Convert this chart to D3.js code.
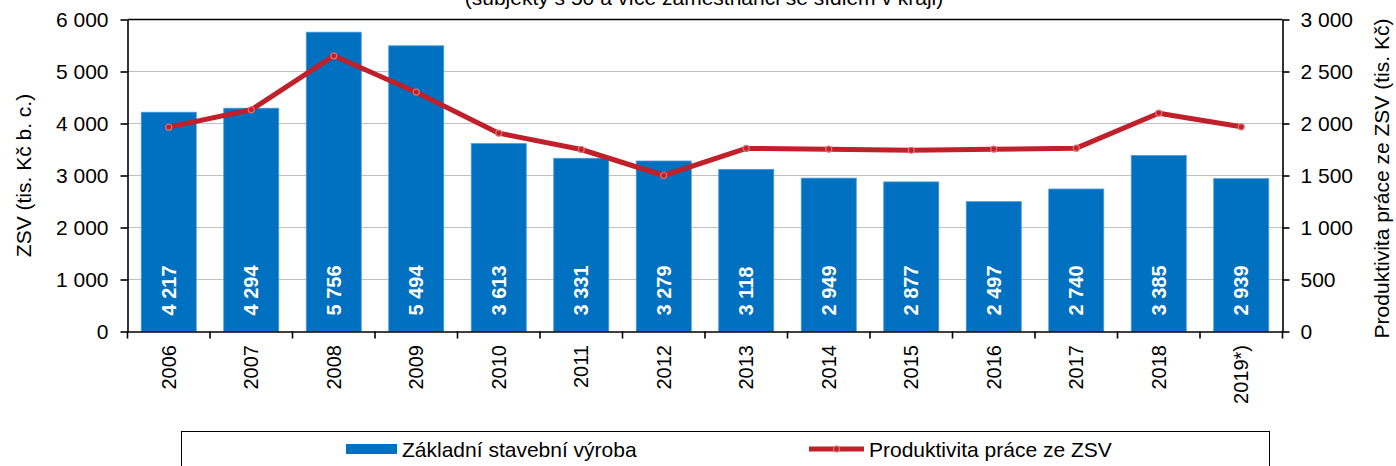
<!DOCTYPE html>
<html>
<head>
<meta charset="utf-8">
<script src="https://cdn.jsdelivr.net/npm/d3@7"></script>
<style>
  body { margin: 0; background: #fff; }
  svg text { font-family: "Liberation Sans", Arial, sans-serif; fill: #000; }
  .axis path, .axis line { stroke: #000; stroke-width: 1.6; }
  .grid line { stroke: #c0c0c0; stroke-width: 1; }
  .bar { fill: #0070c0; stroke: #4a98d8; stroke-width: 0.8; }
  .bar-label { fill: #fff !important; font-weight: bold; font-size: 20px; }
  .line { fill: none; stroke: #c0202a; stroke-width: 5; stroke-linejoin: round; }
  .dot { fill: #c0202a; stroke: #e07070; stroke-width: 1.2; }
</style>
</head>
<body>
<div id="chart"></div>
<script>
var categories = ['2006', '2007', '2008', '2009', '2010', '2011', '2012',
  '2013', '2014', '2015', '2016', '2017', '2018', '2019*)']
// ZSV (tis. Kč b. c.) - levá osa
var zsv = [4217, 4294, 5756, 5494, 3613, 3331, 3279, 3118, 2949, 2877, 2497, 2740, 3385, 2939]
// produktivita práce ze ZSV (tis. Kč) - pravá osa
var produktivita = [1965, 2132, 2651, 2301, 1907, 1750, 1500, 1760, 1753, 1743, 1753, 1763, 2099, 1968]
var leftTicks = [0, 1000, 2000, 3000, 4000, 5000, 6000]
var rightTicks = [0, 500, 1000, 1500, 2000, 2500, 3000]

var title = '(subjekty s 50 a více zaměstnanci se sídlem v kraji)'
var leftLabel = 'ZSV (tis. Kč b. c.)'
var rightLabel = 'Produktivita práce ze ZSV (tis. Kč)'
var barLegend = 'Základní stavební výroba'
var lineLegend = 'Produktivita práce ze ZSV'

var width = 1396, height = 466
var plot = { left: 127.5, right: 1282.5, top: 19.5, bottom: 331.5 }

var cz = d3.formatLocale({ decimal: ',', thousands: ' ', grouping: [3], currency: ['', ''] })
var fmt = cz.format(',d')

var svg = d3.select('#chart').append('svg')
  .attr('width', width)
  .attr('height', height)
  .style('font-size', '21px')

var data = categories.map(function (c, i) {
  return { cat: c, zsv: zsv[i], prod: produktivita[i] }
})

var x = d3.scaleBand()
  .domain(categories)
  .range([plot.left, plot.right])
  .paddingInner(1 / 3)
  .paddingOuter(1 / 6)
var yLeft = d3.scaleLinear().domain([0, 6000]).range([plot.bottom, plot.top])
var yRight = d3.scaleLinear().domain([0, 3000]).range([plot.bottom, plot.top])

// mřížka
svg.append('g')
  .attr('class', 'grid')
  .selectAll('line')
  .data(leftTicks.filter(function (d) { return d > 0 && d < 6000 }))
  .enter().append('line')
  .attr('x1', plot.left).attr('x2', plot.right)
  .attr('y1', function (d) { return yLeft(d) })
  .attr('y2', function (d) { return yLeft(d) })

// horní okraj
svg.append('line')
  .attr('x1', plot.left).attr('x2', plot.right)
  .attr('y1', plot.top).attr('y2', plot.top)
  .attr('stroke', '#000').attr('stroke-width', 1.6)

// sloupce
svg.append('g').selectAll('.bar')
  .data(data)
  .enter().append('rect')
  .attr('class', 'bar')
  .attr('x', function (d) { return x(d.cat) })
  .attr('y', function (d) { return yLeft(d.zsv) })
  .attr('width', x.bandwidth())
  .attr('height', function (d) { return yLeft(0) - yLeft(d.zsv) })

svg.append('g').selectAll('.bar-label')
  .data(data)
  .enter().append('text')
  .attr('class', 'bar-label')
  .attr('transform', function (d) {
    return 'translate(' + (x(d.cat) + x.bandwidth() / 2) + ',' + (yLeft(0) - 16) + ') rotate(-90)'
  })
  .attr('dy', '0.36em')
  .text(function (d) { return fmt(d.zsv) })

// osy
svg.append('g')
  .attr('class', 'axis')
  .attr('transform', 'translate(' + plot.left + ',0)')
  .call(d3.axisLeft(yLeft).tickValues(leftTicks).tickSize(7).tickSizeOuter(0).tickPadding(12).tickFormat(fmt))
  .call(function (g) { g.selectAll('text').style('font-size', '21px').attr('font-family', null) })

svg.append('g')
  .attr('class', 'axis')
  .attr('transform', 'translate(' + plot.right + ',0)')
  .call(d3.axisRight(yRight).tickValues(rightTicks).tickSize(7).tickSizeOuter(0).tickPadding(11).tickFormat(fmt))
  .call(function (g) { g.selectAll('text').style('font-size', '21px').attr('font-family', null) })

var xAxis = svg.append('g')
  .attr('class', 'axis')
  .attr('transform', 'translate(0,' + plot.bottom + ')')
  .call(d3.axisBottom(x).tickSize(0).tickSizeOuter(0))
xAxis.selectAll('text')
  .attr('font-family', null)
  .style('font-size', '20px')
  .attr('y', 0)
  .attr('x', -13.5)
  .attr('dy', '0.36em')
  .attr('transform', 'rotate(-90)')
  .style('text-anchor', 'end')

// značky na hranicích kategorií
var gap = x.step() - x.bandwidth()
var bounds = categories.map(function (c) { return x(c) - gap / 2 }).concat([plot.right])
xAxis.selectAll('.bound')
  .data(bounds)
  .enter().append('line')
  .attr('class', 'bound')
  .attr('x1', function (d) { return d }).attr('x2', function (d) { return d })
  .attr('y1', 0).attr('y2', 7)

// čára produktivity
var line = d3.line()
  .x(function (d) { return x(d.cat) + x.bandwidth() / 2 })
  .y(function (d) { return yRight(d.prod) })
svg.append('path')
  .datum(data)
  .attr('class', 'line')
  .attr('d', line)
svg.append('g').selectAll('.dot')
  .data(data)
  .enter().append('circle')
  .attr('class', 'dot')
  .attr('cx', function (d) { return x(d.cat) + x.bandwidth() / 2 })
  .attr('cy', function (d) { return yRight(d.prod) })
  .attr('r', 3)

// popisky (nadpis je v předloze oříznutý horním okrajem)
svg.append('text')
  .attr('x', 704).attr('y', 5)
  .attr('text-anchor', 'middle')
  .text(title)
svg.append('text')
  .attr('transform', 'translate(23,' + ((plot.top + plot.bottom) / 2) + ') rotate(-90)')
  .attr('text-anchor', 'middle')
  .attr('dy', '0.36em')
  .text(leftLabel)
svg.append('text')
  .attr('transform', 'translate(1381,' + ((plot.top + plot.bottom) / 2 + 3) + ') rotate(-90)')
  .attr('text-anchor', 'middle')
  .attr('dy', '0.36em')
  .text(rightLabel)

// legenda
var legend = svg.append('g')
svg.append('rect')
  .attr('x', 181.5).attr('y', 431.5)
  .attr('width', 1088).attr('height', 60)
  .attr('fill', 'none').attr('stroke', '#000').attr('stroke-width', 1)
legend.append('rect')
  .attr('x', 346).attr('y', 444)
  .attr('width', 51).attr('height', 10)
  .attr('fill', '#0070c0')
legend.append('text')
  .attr('x', 402).attr('y', 457)
  .text(barLegend)
legend.append('line')
  .attr('class', 'line')
  .attr('x1', 809).attr('x2', 864)
  .attr('y1', 449).attr('y2', 449)
legend.append('circle')
  .attr('class', 'dot')
  .attr('cx', 836.5).attr('cy', 449).attr('r', 3)
legend.append('text')
  .attr('x', 869).attr('y', 457)
  .text(lineLegend)
</script>
</body>
</html>
